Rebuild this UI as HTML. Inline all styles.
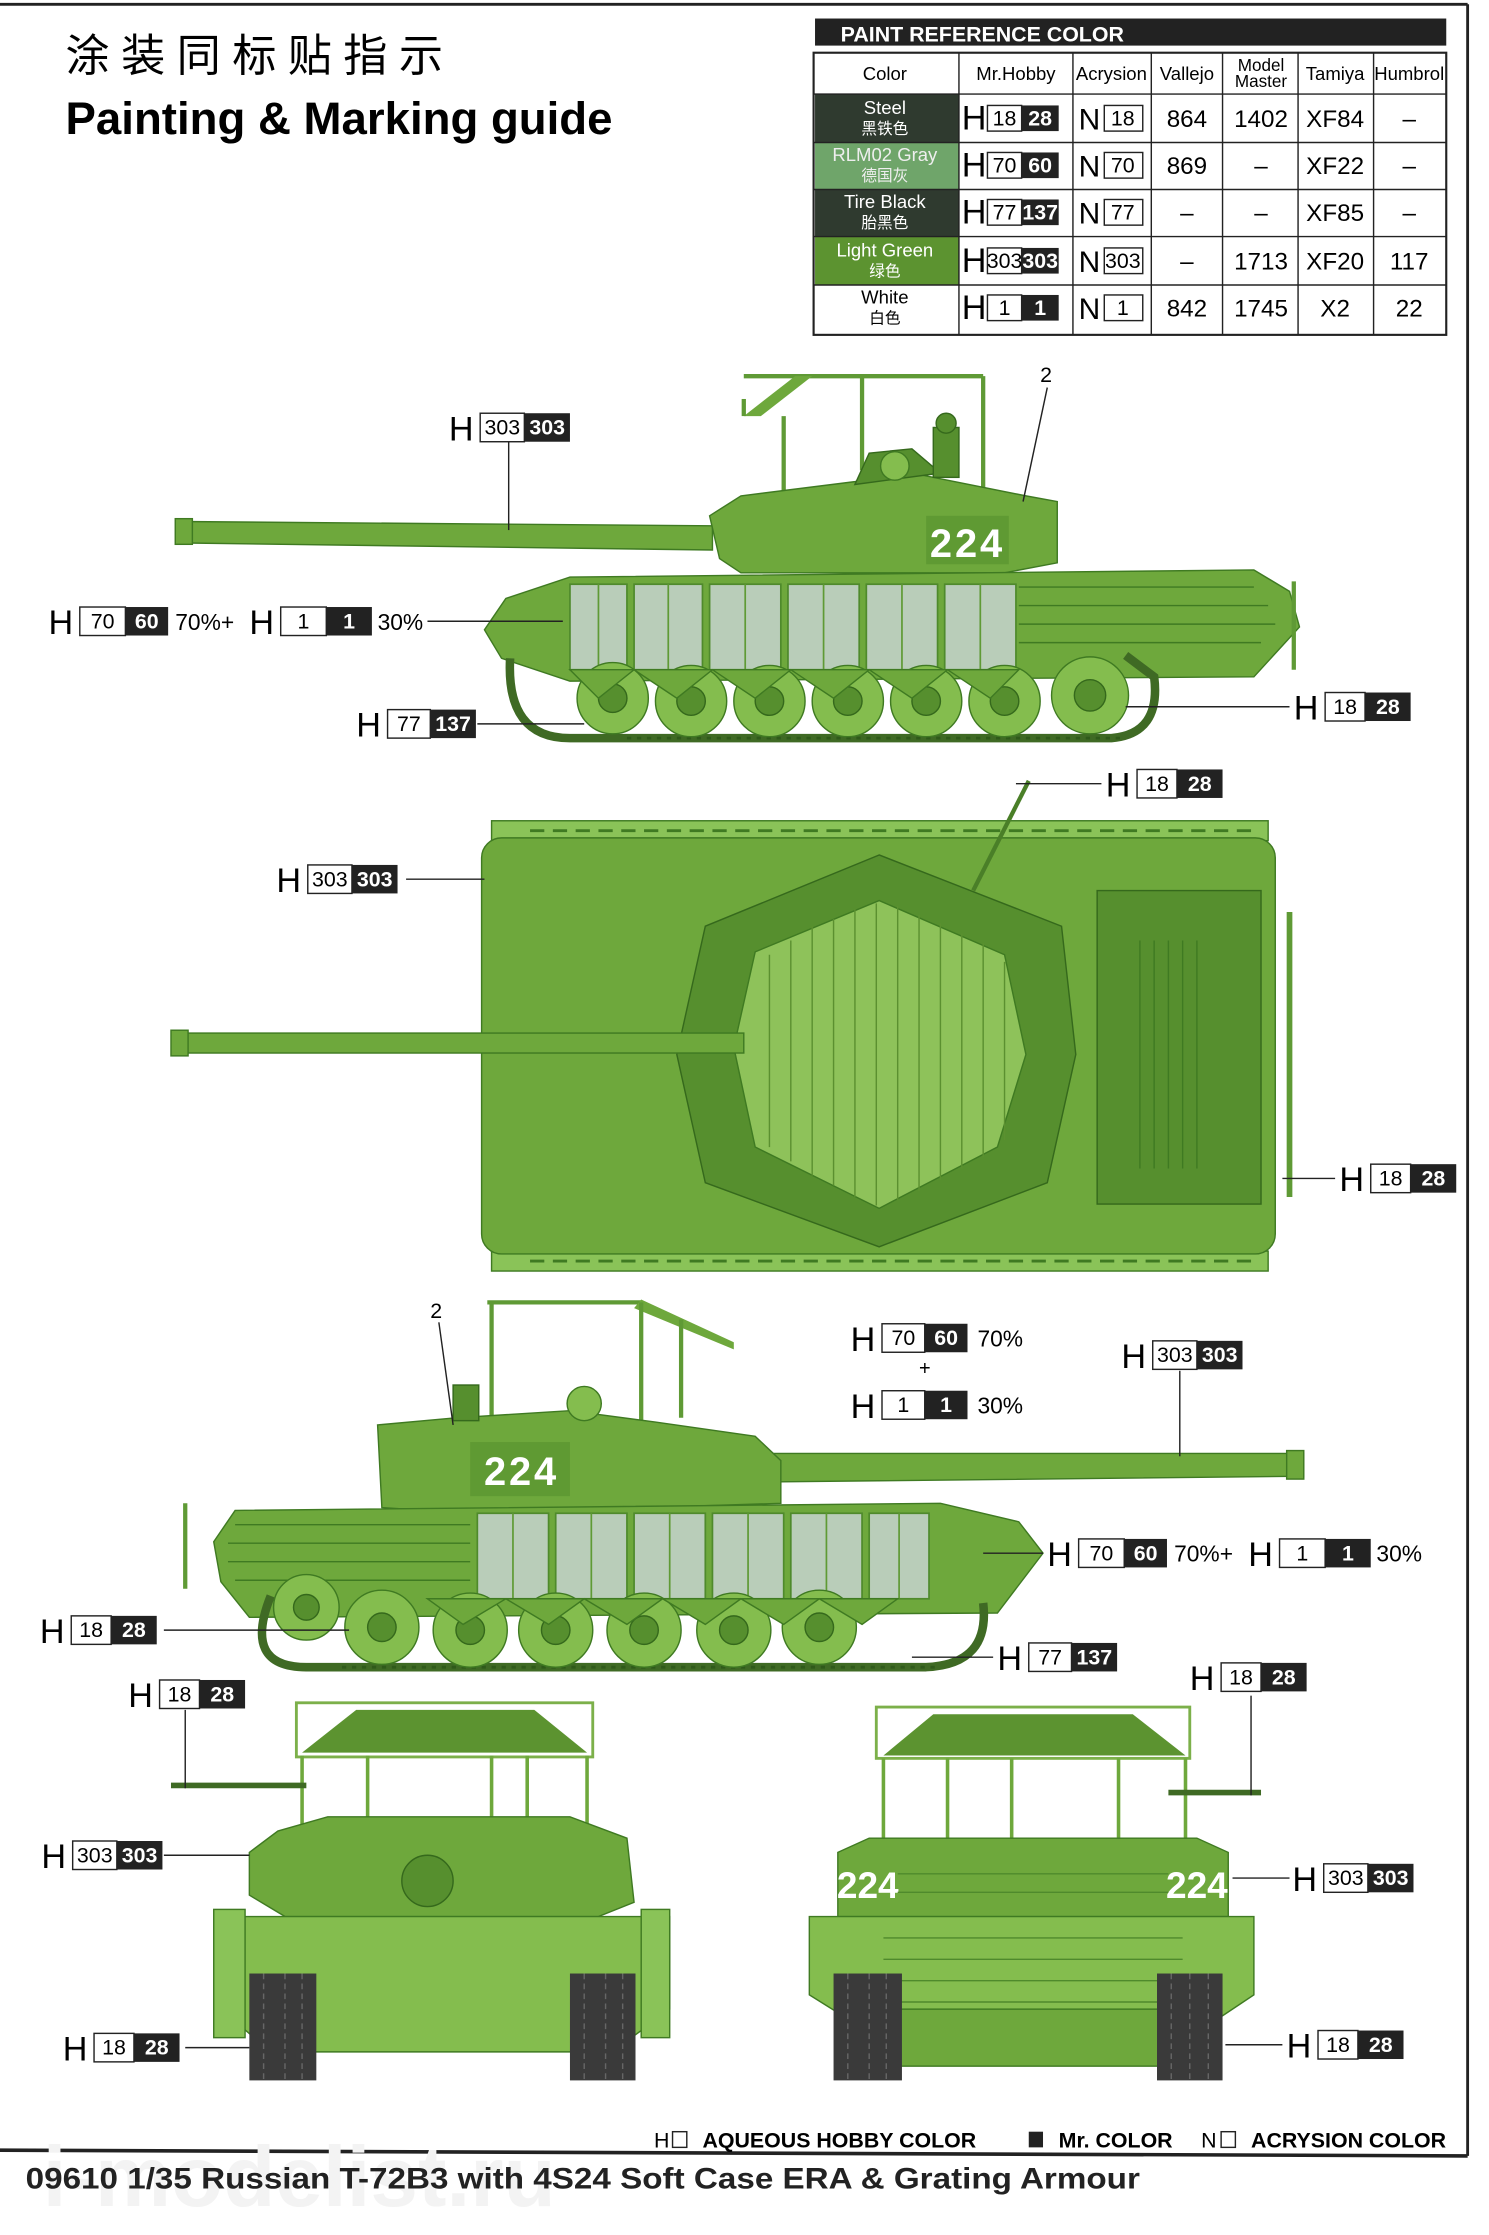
<!DOCTYPE html>
<html><head><meta charset="utf-8"><style>
html,body{margin:0;padding:0;background:#fff;}
svg{display:block;}
text{font-family:"Liberation Sans","Noto Sans CJK SC",sans-serif;}
.n{font-size:15px;text-anchor:middle;}
.nw{font-size:15px;text-anchor:middle;fill:#fff;font-weight:bold;}
.H{font-size:24px;}
.g{fill:#6ea83c;stroke:#3f7a22;stroke-width:1;}
.gl{fill:#84bd4e;stroke:#3f7a22;stroke-width:1;}
.gd{fill:#568f2e;stroke:#35691c;stroke-width:1;}
.era{fill:#b9cdb9;stroke:#4f8a2c;stroke-width:1.2;}
.trk{fill:none;stroke:#3f6a24;stroke-width:6;}
.ln{stroke:#222;stroke-width:1;fill:none;}
.cage{fill:none;stroke:#5f9a35;stroke-width:3;}
</style></head><body>
<svg width="1489" height="2235" viewBox="0 0 1045 1568.5" preserveAspectRatio="none" xmlns="http://www.w3.org/2000/svg">
<rect width="1045" height="1568.5" fill="#fff"/>
<!-- frame -->
<line x1="0" y1="3" x2="1030" y2="3" stroke="#222" stroke-width="2"/>
<line x1="1030" y1="3" x2="1030" y2="1513" stroke="#222" stroke-width="2"/>
<line x1="0" y1="1509" x2="1030" y2="1513" stroke="#222" stroke-width="2.5"/>

<!-- watermark -->
<text x="30" y="1548" font-size="60" font-weight="bold" fill="#f3f3f3">i-modelist.ru</text>

<!-- title -->
<text x="46" y="50" font-size="31" font-family="'Noto Sans CJK SC',sans-serif" letter-spacing="8">涂装同标贴指示</text>
<text x="46" y="94" font-size="32" font-weight="bold">Painting &amp; Marking guide</text>

<!-- paint table -->
<rect x="572" y="13" width="443" height="19" fill="#222"/>
<text x="590" y="29" font-size="15" font-weight="bold" fill="#fff">PAINT  REFERENCE COLOR</text>
<g font-size="13">
<rect x="571" y="37" width="444" height="198" fill="#fff" stroke="#222" stroke-width="1.5"/>
<rect x="572" y="66" width="101" height="34" fill="#2f3a2f"/>
<rect x="572" y="100" width="101" height="33" fill="#6fa56a"/>
<rect x="572" y="133" width="101" height="33" fill="#2f3a2f"/>
<rect x="572" y="166" width="101" height="34" fill="#5c9330"/>
<g stroke="#222" stroke-width="1">
<line x1="571" y1="66" x2="1015" y2="66"/><line x1="571" y1="100" x2="1015" y2="100"/><line x1="571" y1="133" x2="1015" y2="133"/><line x1="571" y1="166" x2="1015" y2="166"/><line x1="571" y1="200" x2="1015" y2="200"/>
<line x1="673" y1="37" x2="673" y2="235"/><line x1="753" y1="37" x2="753" y2="235"/><line x1="808" y1="37" x2="808" y2="235"/><line x1="858" y1="37" x2="858" y2="235"/><line x1="911" y1="37" x2="911" y2="235"/><line x1="964" y1="37" x2="964" y2="235"/>
</g>
<g text-anchor="middle">
<text x="621" y="56">Color</text><text x="713" y="56">Mr.Hobby</text><text x="780" y="56">Acrysion</text><text x="833" y="56">Vallejo</text>
<text x="885" y="50" font-size="12">Model</text><text x="885" y="61" font-size="12">Master</text><text x="937" y="56">Tamiya</text><text x="989" y="56">Humbrol</text>
<text x="621" y="80" fill="#fff">Steel</text><text x="621" y="94" fill="#fff" font-size="11">黑铁色</text>
<text x="621" y="113" fill="#eee">RLM02 Gray</text><text x="621" y="127" fill="#eee" font-size="11">德国灰</text>
<text x="621" y="146" fill="#fff">Tire Black</text><text x="621" y="160" fill="#fff" font-size="11">胎黑色</text>
<text x="621" y="180" fill="#fff">Light Green</text><text x="621" y="194" fill="#fff" font-size="11">绿色</text>
<text x="621" y="213">White</text><text x="621" y="227" font-size="11">白色</text>
<g font-size="17">
<text x="833" y="89">864</text><text x="885" y="89">1402</text><text x="937" y="89">XF84</text><text x="989" y="89">–</text>
<text x="833" y="122">869</text><text x="885" y="122">–</text><text x="937" y="122">XF22</text><text x="989" y="122">–</text>
<text x="833" y="155">–</text><text x="885" y="155">–</text><text x="937" y="155">XF85</text><text x="989" y="155">–</text>
<text x="833" y="189">–</text><text x="885" y="189">1713</text><text x="937" y="189">XF20</text><text x="989" y="189">117</text>
<text x="833" y="222">842</text><text x="885" y="222">1745</text><text x="937" y="222">X2</text><text x="989" y="222">22</text>
</g>
</g>
</g>
<!-- table H/N cells -->
<g>
<g transform="translate(675,83)"><text class="H" x="0" y="8" font-size="21">H</text><rect x="18" y="-9" width="24" height="18" fill="#fff" stroke="#222"/><rect x="42" y="-9" width="26" height="18" fill="#222"/><text class="n" x="30" y="5">18</text><text class="nw" x="55" y="5">28</text></g>
<g transform="translate(675,116)"><text class="H" x="0" y="8" font-size="21">H</text><rect x="18" y="-9" width="24" height="18" fill="#fff" stroke="#222"/><rect x="42" y="-9" width="26" height="18" fill="#222"/><text class="n" x="30" y="5">70</text><text class="nw" x="55" y="5">60</text></g>
<g transform="translate(675,149)"><text class="H" x="0" y="8" font-size="21">H</text><rect x="18" y="-9" width="24" height="18" fill="#fff" stroke="#222"/><rect x="42" y="-9" width="26" height="18" fill="#222"/><text class="n" x="30" y="5">77</text><text class="nw" x="55" y="5">137</text></g>
<g transform="translate(675,183)"><text class="H" x="0" y="8" font-size="21">H</text><rect x="18" y="-9" width="24" height="18" fill="#fff" stroke="#222"/><rect x="42" y="-9" width="26" height="18" fill="#222"/><text class="n" x="30" y="5" font-size="13">303</text><text class="nw" x="55" y="5" font-size="13">303</text></g>
<g transform="translate(675,216)"><text class="H" x="0" y="8" font-size="21">H</text><rect x="18" y="-9" width="24" height="18" fill="#fff" stroke="#222"/><rect x="42" y="-9" width="26" height="18" fill="#222"/><text class="n" x="30" y="5">1</text><text class="nw" x="55" y="5">1</text></g>
<g font-size="21"><text x="757" y="91">N</text><text x="757" y="124">N</text><text x="757" y="157">N</text><text x="757" y="191">N</text><text x="757" y="224">N</text></g>
<g fill="#fff" stroke="#222"><rect x="775" y="74" width="27" height="18"/><rect x="775" y="107" width="27" height="18"/><rect x="775" y="140" width="27" height="18"/><rect x="775" y="174" width="27" height="18"/><rect x="775" y="207" width="27" height="18"/></g>
<text class="n" x="788" y="88">18</text><text class="n" x="788" y="121">70</text><text class="n" x="788" y="154">77</text><text class="n" x="788" y="188" font-size="13">303</text><text class="n" x="788" y="221">1</text>
</g>

<!-- ============ SIDE VIEW 1 ============ -->
<g>
<line class="cage" x1="522" y1="264" x2="690" y2="264"/>
<polygon points="522,292 558,264 570,264 534,292" fill="#6ea83c"/>
<line class="cage" x1="522" y1="292" x2="522" y2="280"/>
<line class="cage" x1="550" y1="292" x2="550" y2="400"/>
<line class="cage" x1="605" y1="264" x2="605" y2="330"/>
<line class="cage" x1="690" y1="264" x2="690" y2="350"/>
<polygon class="g" points="125,366 500,369 500,386 125,381"/>
<rect class="g" x="123" y="364" width="12" height="18"/>
<path class="g" d="M498,362 L520,348 L600,338 L640,332 L720,348 L742,352 L742,395 L705,402 L520,402 L505,392 Z"/>
<path class="gd" d="M600,340 L610,318 L640,315 L660,332 Z"/>
<circle class="gl" cx="628" cy="327" r="10"/>
<rect class="gd" x="655" y="300" width="18" height="35"/>
<circle class="gd" cx="664" cy="297" r="7"/>
<rect x="650" y="362" width="58" height="34" fill="#5f9a33"/>
<text x="679" y="391" font-size="28" font-weight="bold" fill="#fff" text-anchor="middle" letter-spacing="2">224</text>
<path class="g" d="M340,442 L355,420 L400,405 L880,400 L905,415 L912,440 L880,475 L400,478 L352,462 Z"/>
<g class="era">
<rect x="400" y="410" width="40" height="60"/><rect x="445" y="410" width="48" height="60"/><rect x="498" y="410" width="50" height="60"/><rect x="553" y="410" width="50" height="60"/><rect x="608" y="410" width="50" height="60"/><rect x="663" y="410" width="50" height="60"/>
</g>
<g stroke="#5f9a35" stroke-width="1.2"><line x1="420" y1="410" x2="420" y2="470"/><line x1="469" y1="410" x2="469" y2="470"/><line x1="523" y1="410" x2="523" y2="470"/><line x1="578" y1="410" x2="578" y2="470"/><line x1="633" y1="410" x2="633" y2="470"/><line x1="688" y1="410" x2="688" y2="470"/></g>
<g stroke="#3f7a22" stroke-width="1"><line x1="715" y1="412" x2="880" y2="412"/><line x1="715" y1="425" x2="890" y2="425"/><line x1="715" y1="438" x2="895" y2="438"/><line x1="715" y1="451" x2="885" y2="451"/></g>
<line x1="908" y1="408" x2="908" y2="470" stroke="#5f9a35" stroke-width="3"/>
<path class="trk" d="M358,462 Q355,518 400,518 L780,518 Q815,515 810,475 L790,460"/>
<g stroke="#2f5a1a" stroke-width="2" stroke-dasharray="3,4"><line x1="440" y1="518" x2="790" y2="518"/></g>
<g class="gl"><circle cx="430" cy="490" r="25"/><circle cx="485" cy="492" r="25"/><circle cx="540" cy="492" r="25"/><circle cx="595" cy="492" r="25"/><circle cx="650" cy="492" r="25"/><circle cx="705" cy="492" r="25"/><circle cx="765" cy="488" r="27"/></g>
<g class="gd"><circle cx="430" cy="490" r="10"/><circle cx="485" cy="492" r="10"/><circle cx="540" cy="492" r="10"/><circle cx="595" cy="492" r="10"/><circle cx="650" cy="492" r="10"/><circle cx="705" cy="492" r="10"/><circle cx="765" cy="488" r="11"/></g>
<path class="g" d="M400,470 L420,490 L445,470 L475,490 L500,470 L530,490 L555,470 L585,490 L610,470 L640,490 L665,470 L695,490 L715,470 Z"/>
</g>

<!-- ============ TOP VIEW ============ -->
<g>
<rect x="345" y="576" width="545" height="14" fill="#8ac358" stroke="#3f7a22"/>
<rect x="345" y="878" width="545" height="14" fill="#8ac358" stroke="#3f7a22"/>
<g stroke="#3f7a22" stroke-width="2" stroke-dasharray="10,6"><line x1="372" y1="583" x2="880" y2="583"/><line x1="372" y1="885" x2="880" y2="885"/></g>
<rect class="g" x="338" y="588" width="557" height="292" rx="14"/>
<rect class="gd" x="770" y="625" width="115" height="220"/>
<g stroke="#3f7a22" stroke-width="1"><line x1="800" y1="660" x2="800" y2="820"/><line x1="810" y1="660" x2="810" y2="820"/><line x1="820" y1="660" x2="820" y2="820"/><line x1="830" y1="660" x2="830" y2="820"/><line x1="840" y1="660" x2="840" y2="820"/></g>
<line x1="905" y1="640" x2="905" y2="840" stroke="#5f9a35" stroke-width="4"/>
<polygon class="gd" points="617,600 745,650 755,740 735,830 617,875 495,830 475,740 495,650"/>
<polygon fill="#8ec25a" stroke="#3f7a22" points="617,632 705,670 720,740 700,805 617,848 530,805 515,735 530,668"/>
<g stroke="#5b9030" stroke-width="1"><line x1="540" y1="670" x2="540" y2="805"/><line x1="555" y1="660" x2="555" y2="815"/><line x1="570" y1="650" x2="570" y2="825"/><line x1="585" y1="645" x2="585" y2="832"/><line x1="600" y1="638" x2="600" y2="840"/><line x1="615" y1="634" x2="615" y2="846"/><line x1="630" y1="636" x2="630" y2="842"/><line x1="645" y1="642" x2="645" y2="836"/><line x1="660" y1="648" x2="660" y2="828"/><line x1="675" y1="655" x2="675" y2="820"/><line x1="690" y1="662" x2="690" y2="812"/><line x1="705" y1="675" x2="705" y2="800"/></g>
<rect class="g" x="122" y="725" width="400" height="14"/>
<rect class="g" x="120" y="723" width="12" height="18"/>
<line x1="683" y1="625" x2="722" y2="548" stroke="#4a7f28" stroke-width="3"/>
</g>

<!-- ============ SIDE VIEW 2 ============ -->
<g>
<line class="cage" x1="342" y1="914" x2="450" y2="914"/>
<polygon points="450,912 515,942 515,947 445,918" fill="#6ea83c"/>
<line class="cage" x1="345" y1="914" x2="345" y2="1000"/>
<line class="cage" x1="450" y1="914" x2="450" y2="1000"/>
<line class="cage" x1="478" y1="926" x2="478" y2="995"/>
<polygon class="g" points="540,1020 915,1020 915,1036 540,1040"/>
<rect class="g" x="903" y="1018" width="12" height="20"/>
<path class="g" d="M265,1000 L320,995 L400,990 L460,998 L530,1008 L548,1025 L548,1055 L330,1062 L268,1058 Z"/>
<circle class="gl" cx="410" cy="985" r="12"/>
<rect class="gd" x="318" y="972" width="18" height="25"/>
<rect x="330" y="1012" width="70" height="38" fill="#5f9a33"/>
<text x="366" y="1042" font-size="28" font-weight="bold" fill="#fff" text-anchor="middle" letter-spacing="2">224</text>
<path class="g" d="M150,1082 L165,1060 L660,1055 L715,1068 L732,1090 L700,1132 L175,1135 L155,1110 Z"/>
<g class="era"><rect x="335" y="1062" width="50" height="60"/><rect x="390" y="1062" width="50" height="60"/><rect x="445" y="1062" width="50" height="60"/><rect x="500" y="1062" width="50" height="60"/><rect x="555" y="1062" width="50" height="60"/><rect x="610" y="1062" width="42" height="60"/></g>
<g stroke="#5f9a35" stroke-width="1.2"><line x1="360" y1="1062" x2="360" y2="1122"/><line x1="415" y1="1062" x2="415" y2="1122"/><line x1="470" y1="1062" x2="470" y2="1122"/><line x1="525" y1="1062" x2="525" y2="1122"/><line x1="580" y1="1062" x2="580" y2="1122"/><line x1="631" y1="1062" x2="631" y2="1122"/></g>
<g stroke="#3f7a22" stroke-width="1"><line x1="165" y1="1070" x2="330" y2="1070"/><line x1="160" y1="1083" x2="330" y2="1083"/><line x1="160" y1="1096" x2="330" y2="1096"/><line x1="165" y1="1109" x2="330" y2="1109"/></g>
<line x1="130" y1="1055" x2="130" y2="1115" stroke="#5f9a35" stroke-width="3"/>
<path class="trk" d="M190,1120 Q170,1170 215,1170 L650,1170 Q695,1168 690,1125"/>
<g stroke="#2f5a1a" stroke-width="2" stroke-dasharray="3,4"><line x1="240" y1="1170" x2="660" y2="1170"/></g>
<g class="gl"><circle cx="215" cy="1128" r="23"/><circle cx="268" cy="1142" r="26"/><circle cx="330" cy="1144" r="26"/><circle cx="390" cy="1144" r="26"/><circle cx="452" cy="1144" r="26"/><circle cx="515" cy="1144" r="26"/><circle cx="575" cy="1142" r="26"/></g>
<g class="gd"><circle cx="215" cy="1128" r="9"/><circle cx="268" cy="1142" r="10"/><circle cx="330" cy="1144" r="10"/><circle cx="390" cy="1144" r="10"/><circle cx="452" cy="1144" r="10"/><circle cx="515" cy="1144" r="10"/><circle cx="575" cy="1142" r="10"/></g>
<path class="g" d="M300,1122 L325,1140 L355,1122 L385,1140 L410,1122 L440,1140 L465,1122 L495,1140 L520,1122 L550,1140 L575,1122 L605,1140 L630,1122 Z"/>
</g>

<!-- ============ REAR/FRONT VIEWS ============ -->
<g>
<rect x="208" y="1195" width="208" height="38" fill="none" stroke="#7cb04a" stroke-width="2"/>
<polygon fill="#5c9330" points="250,1200 375,1200 412,1230 212,1230"/>
<g stroke="#6ea83c" stroke-width="2.5"><line x1="212" y1="1232" x2="212" y2="1300"/><line x1="258" y1="1232" x2="258" y2="1290"/><line x1="345" y1="1232" x2="345" y2="1290"/><line x1="370" y1="1232" x2="370" y2="1290"/><line x1="412" y1="1232" x2="412" y2="1300"/></g>
<line x1="120" y1="1253" x2="215" y2="1253" stroke="#3f6a24" stroke-width="4"/>
<path class="g" d="M175,1300 L195,1285 L230,1275 L400,1275 L440,1290 L445,1335 L420,1345 L200,1345 L175,1330 Z"/>
<circle class="gd" cx="300" cy="1320" r="18"/>
<path class="gl" d="M155,1345 L470,1345 L470,1410 L430,1440 L190,1440 L155,1410 Z"/>
<rect x="150" y="1340" width="22" height="90" fill="#8ac358" stroke="#3f7a22"/>
<rect x="450" y="1340" width="20" height="90" fill="#8ac358" stroke="#3f7a22"/>
<rect x="175" y="1385" width="47" height="75" fill="#3a3a3a"/>
<rect x="400" y="1385" width="46" height="75" fill="#3a3a3a"/>
<g stroke="#666" stroke-width="1" stroke-dasharray="4,3"><line x1="185" y1="1385" x2="185" y2="1460"/><line x1="200" y1="1385" x2="200" y2="1460"/><line x1="212" y1="1385" x2="212" y2="1460"/><line x1="410" y1="1385" x2="410" y2="1460"/><line x1="425" y1="1385" x2="425" y2="1460"/><line x1="437" y1="1385" x2="437" y2="1460"/></g>
<rect x="615" y="1198" width="220" height="36" fill="none" stroke="#7cb04a" stroke-width="2"/>
<polygon fill="#5c9330" points="655,1203 795,1203 832,1232 620,1232"/>
<g stroke="#6ea83c" stroke-width="2.5"><line x1="620" y1="1234" x2="620" y2="1300"/><line x1="665" y1="1234" x2="665" y2="1290"/><line x1="710" y1="1234" x2="710" y2="1290"/><line x1="785" y1="1234" x2="785" y2="1290"/><line x1="832" y1="1234" x2="832" y2="1300"/></g>
<line x1="820" y1="1258" x2="885" y2="1258" stroke="#3f6a24" stroke-width="4"/>
<path class="g" d="M588,1300 L610,1290 L840,1290 L862,1300 L862,1345 L588,1345 Z"/>
<text x="609" y="1332" font-size="26" font-weight="bold" fill="#fff" text-anchor="middle">224</text>
<text x="840" y="1332" font-size="26" font-weight="bold" fill="#fff" text-anchor="middle">224</text>
<path class="gl" d="M568,1345 L880,1345 L880,1400 L850,1420 L600,1420 L568,1400 Z"/>
<g stroke="#4f8a2c" stroke-width="1"><line x1="630" y1="1315" x2="820" y2="1315"/><line x1="630" y1="1328" x2="820" y2="1328"/><line x1="620" y1="1360" x2="830" y2="1360"/><line x1="620" y1="1375" x2="830" y2="1375"/><line x1="620" y1="1390" x2="830" y2="1390"/><line x1="620" y1="1405" x2="830" y2="1405"/></g>
<rect class="g" x="625" y="1410" width="200" height="40"/>
<rect x="585" y="1385" width="48" height="75" fill="#3a3a3a"/>
<rect x="812" y="1385" width="46" height="75" fill="#3a3a3a"/>
<g stroke="#666" stroke-width="1" stroke-dasharray="4,3"><line x1="595" y1="1385" x2="595" y2="1460"/><line x1="610" y1="1385" x2="610" y2="1460"/><line x1="622" y1="1385" x2="622" y2="1460"/><line x1="822" y1="1385" x2="822" y2="1460"/><line x1="835" y1="1385" x2="835" y2="1460"/><line x1="848" y1="1385" x2="848" y2="1460"/></g>
</g>

<!-- ============ LEADER LINES ============ -->
<g class="ln">
<line x1="357" y1="310" x2="357" y2="372"/>
<line x1="300" y1="436" x2="395" y2="436"/>
<line x1="335" y1="508" x2="410" y2="508"/>
<line x1="790" y1="496" x2="905" y2="496"/>
<line x1="735" y1="272" x2="718" y2="352"/>
<line x1="713" y1="550" x2="773" y2="550"/>
<line x1="285" y1="617" x2="340" y2="617"/>
<line x1="900" y1="827" x2="937" y2="827"/>
<line x1="828" y1="962" x2="828" y2="1022"/>
<line x1="308" y1="928" x2="318" y2="1000"/>
<line x1="690" y1="1090" x2="732" y2="1090"/>
<line x1="115" y1="1144" x2="245" y2="1144"/>
<line x1="640" y1="1163" x2="697" y2="1163"/>
<line x1="130" y1="1200" x2="130" y2="1255"/>
<line x1="115" y1="1302" x2="175" y2="1302"/>
<line x1="130" y1="1437" x2="175" y2="1437"/>
<line x1="878" y1="1190" x2="878" y2="1260"/>
<line x1="865" y1="1318" x2="905" y2="1318"/>
<line x1="860" y1="1435" x2="900" y2="1435"/>
</g>
<text x="730" y="268" font-size="15">2</text>
<text x="302" y="925" font-size="15">2</text>

<!-- ============ LABELS ============ -->
<g>
<g transform="translate(315,300)"><text class="H" x="0" y="9">H</text><rect x="22" y="-10" width="31" height="20" fill="#fff" stroke="#222"/><rect x="53" y="-10" width="32" height="20" fill="#222"/><text class="n" x="37.5" y="5">303</text><text class="nw" x="69" y="5">303</text></g>
<g transform="translate(34,436)"><text class="H" x="0" y="9">H</text><rect x="22" y="-10" width="32" height="20" fill="#fff" stroke="#222"/><rect x="54" y="-10" width="30" height="20" fill="#222"/><text class="n" x="38" y="5">70</text><text class="nw" x="69" y="5">60</text><text x="89" y="6" font-size="16">70%+</text><text class="H" x="141" y="9">H</text><rect x="163" y="-10" width="32" height="20" fill="#fff" stroke="#222"/><rect x="195" y="-10" width="32" height="20" fill="#222"/><text class="n" x="179" y="5">1</text><text class="nw" x="211" y="5">1</text><text x="231" y="6" font-size="16">30%</text></g>
<g transform="translate(250,508)"><text class="H" x="0" y="9">H</text><rect x="22" y="-10" width="30" height="20" fill="#fff" stroke="#222"/><rect x="52" y="-10" width="32" height="20" fill="#222"/><text class="n" x="37" y="5">77</text><text class="nw" x="68" y="5">137</text></g>
<g transform="translate(908,496)"><text class="H" x="0" y="9">H</text><rect x="22" y="-10" width="28" height="20" fill="#fff" stroke="#222"/><rect x="50" y="-10" width="32" height="20" fill="#222"/><text class="n" x="36" y="5">18</text><text class="nw" x="66" y="5">28</text></g>
<g transform="translate(776,550)"><text class="H" x="0" y="9">H</text><rect x="22" y="-10" width="28" height="20" fill="#fff" stroke="#222"/><rect x="50" y="-10" width="32" height="20" fill="#222"/><text class="n" x="36" y="5">18</text><text class="nw" x="66" y="5">28</text></g>
<g transform="translate(194,617)"><text class="H" x="0" y="9">H</text><rect x="22" y="-10" width="31" height="20" fill="#fff" stroke="#222"/><rect x="53" y="-10" width="32" height="20" fill="#222"/><text class="n" x="37.5" y="5">303</text><text class="nw" x="69" y="5">303</text></g>
<g transform="translate(940,827)"><text class="H" x="0" y="9">H</text><rect x="22" y="-10" width="28" height="20" fill="#fff" stroke="#222"/><rect x="50" y="-10" width="32" height="20" fill="#222"/><text class="n" x="36" y="5">18</text><text class="nw" x="66" y="5">28</text></g>
<g transform="translate(597,939)"><text class="H" x="0" y="9">H</text><rect x="22" y="-10" width="30" height="20" fill="#fff" stroke="#222"/><rect x="52" y="-10" width="30" height="20" fill="#222"/><text class="n" x="37" y="5">70</text><text class="nw" x="67" y="5">60</text><text x="89" y="6" font-size="16">70%</text></g>
<text x="645" y="965" font-size="14">+</text>
<g transform="translate(597,986)"><text class="H" x="0" y="9">H</text><rect x="22" y="-10" width="30" height="20" fill="#fff" stroke="#222"/><rect x="52" y="-10" width="30" height="20" fill="#222"/><text class="n" x="37" y="5">1</text><text class="nw" x="67" y="5">1</text><text x="89" y="6" font-size="16">30%</text></g>
<g transform="translate(787,951)"><text class="H" x="0" y="9">H</text><rect x="22" y="-10" width="31" height="20" fill="#fff" stroke="#222"/><rect x="53" y="-10" width="32" height="20" fill="#222"/><text class="n" x="37.5" y="5">303</text><text class="nw" x="69" y="5">303</text></g>
<g transform="translate(735,1090)"><text class="H" x="0" y="9">H</text><rect x="22" y="-10" width="32" height="20" fill="#fff" stroke="#222"/><rect x="54" y="-10" width="30" height="20" fill="#222"/><text class="n" x="38" y="5">70</text><text class="nw" x="69" y="5">60</text><text x="89" y="6" font-size="16">70%+</text><text class="H" x="141" y="9">H</text><rect x="163" y="-10" width="32" height="20" fill="#fff" stroke="#222"/><rect x="195" y="-10" width="32" height="20" fill="#222"/><text class="n" x="179" y="5">1</text><text class="nw" x="211" y="5">1</text><text x="231" y="6" font-size="16">30%</text></g>
<g transform="translate(28,1144)"><text class="H" x="0" y="9">H</text><rect x="22" y="-10" width="28" height="20" fill="#fff" stroke="#222"/><rect x="50" y="-10" width="32" height="20" fill="#222"/><text class="n" x="36" y="5">18</text><text class="nw" x="66" y="5">28</text></g>
<g transform="translate(700,1163)"><text class="H" x="0" y="9">H</text><rect x="22" y="-10" width="30" height="20" fill="#fff" stroke="#222"/><rect x="52" y="-10" width="32" height="20" fill="#222"/><text class="n" x="37" y="5">77</text><text class="nw" x="68" y="5">137</text></g>
<g transform="translate(90,1189)"><text class="H" x="0" y="9">H</text><rect x="22" y="-10" width="28" height="20" fill="#fff" stroke="#222"/><rect x="50" y="-10" width="32" height="20" fill="#222"/><text class="n" x="36" y="5">18</text><text class="nw" x="66" y="5">28</text></g>
<g transform="translate(29,1302)"><text class="H" x="0" y="9">H</text><rect x="22" y="-10" width="31" height="20" fill="#fff" stroke="#222"/><rect x="53" y="-10" width="32" height="20" fill="#222"/><text class="n" x="37.5" y="5">303</text><text class="nw" x="69" y="5">303</text></g>
<g transform="translate(44,1437)"><text class="H" x="0" y="9">H</text><rect x="22" y="-10" width="28" height="20" fill="#fff" stroke="#222"/><rect x="50" y="-10" width="32" height="20" fill="#222"/><text class="n" x="36" y="5">18</text><text class="nw" x="66" y="5">28</text></g>
<g transform="translate(835,1177)"><text class="H" x="0" y="9">H</text><rect x="22" y="-10" width="28" height="20" fill="#fff" stroke="#222"/><rect x="50" y="-10" width="32" height="20" fill="#222"/><text class="n" x="36" y="5">18</text><text class="nw" x="66" y="5">28</text></g>
<g transform="translate(907,1318)"><text class="H" x="0" y="9">H</text><rect x="22" y="-10" width="31" height="20" fill="#fff" stroke="#222"/><rect x="53" y="-10" width="32" height="20" fill="#222"/><text class="n" x="37.5" y="5">303</text><text class="nw" x="69" y="5">303</text></g>
<g transform="translate(903,1435)"><text class="H" x="0" y="9">H</text><rect x="22" y="-10" width="28" height="20" fill="#fff" stroke="#222"/><rect x="50" y="-10" width="32" height="20" fill="#222"/><text class="n" x="36" y="5">18</text><text class="nw" x="66" y="5">28</text></g>
</g>

<!-- legend & footer -->
<g font-size="15" font-weight="bold">
<text x="459" y="1507" font-weight="normal">H</text><rect x="472" y="1496" width="10" height="11" fill="none" stroke="#222"/>
<text x="493" y="1507">AQUEOUS HOBBY COLOR</text>
<rect x="722" y="1496" width="10" height="11" fill="#222"/>
<text x="743" y="1507">Mr. COLOR</text>
<text x="843" y="1507" font-weight="normal">N</text><rect x="857" y="1496" width="10" height="11" fill="none" stroke="#222"/>
<text x="878" y="1507">ACRYSION COLOR</text>
</g>
<text x="18" y="1536" font-size="21" font-weight="bold" fill="#222" textLength="782" lengthAdjust="spacingAndGlyphs">09610 1/35  Russian T-72B3 with 4S24 Soft Case ERA &amp; Grating Armour</text>
</svg>
</body></html>
